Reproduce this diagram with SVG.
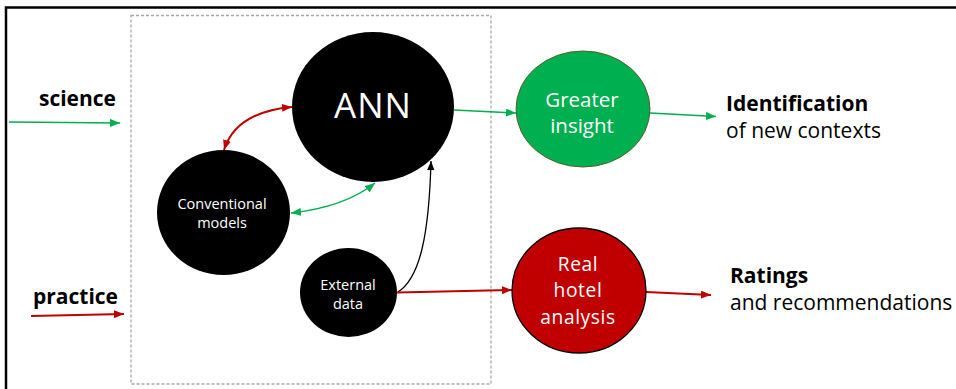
<svg xmlns="http://www.w3.org/2000/svg" width="956" height="389" viewBox="0 0 956 389">
  <defs>
    <marker id="ah-green" viewBox="0 0 10 8" refX="10" refY="4" markerWidth="10" markerHeight="8" markerUnits="userSpaceOnUse" orient="auto-start-reverse">
      <path d="M0,0 L10,4 L0,8 Z" fill="#00b050"/>
    </marker>
    <marker id="ah-red" viewBox="0 0 10 8" refX="10" refY="4" markerWidth="10" markerHeight="8" markerUnits="userSpaceOnUse" orient="auto-start-reverse">
      <path d="M0,0 L10,4 L0,8 Z" fill="#c00000"/>
    </marker>
    <marker id="ah-black" viewBox="0 0 10 8" refX="10" refY="4" markerWidth="9" markerHeight="8" markerUnits="userSpaceOnUse" orient="auto-start-reverse">
      <path d="M0,0 L10,4 L0,8 Z" fill="#000"/>
    </marker>
  </defs>
  <style>
    text { font-family: "Open Sans", "Liberation Sans", sans-serif; }
    .lbl-b { font-weight: bold; font-size: 21px; fill: #000; }
    .lbl { font-size: 21px; fill: #000; }
    .in-w { fill: #fff; text-anchor: middle; }
    .g { stroke: #00b050; stroke-width: 1.5; fill: none; }
    .r { stroke: #c00000; stroke-width: 2; fill: none; }
    .k { stroke: #000; stroke-width: 1.3; fill: none; }
  </style>

  <rect width="956" height="389" fill="#fff"/>

  <!-- outer frame (top and left edges visible) -->
  <path d="M6,389 V7.5 H956" fill="none" stroke="#000" stroke-width="2.5"/>

  <!-- dashed enclosure around the model -->
  <rect x="131" y="15.5" width="360" height="368.5" fill="none" stroke="#a6a6a6" stroke-width="1.3" stroke-dasharray="3 2"/>

  <!-- side labels -->
  <text class="lbl-b" x="116" y="106" text-anchor="end">science</text>
  <text class="lbl-b" x="118" y="304" text-anchor="end">practice</text>

  <g id="connectors">
    <line class="g" x1="9" y1="122" x2="120" y2="123" marker-end="url(#ah-green)"/>
    <line class="r" x1="31" y1="316" x2="124" y2="314" marker-end="url(#ah-red)"/>
    <path class="r" d="M224,150 Q236,112 292,107" stroke-width="1.5" marker-start="url(#ah-red)" marker-end="url(#ah-red)"/>
    <path class="g" d="M291,213 Q345,207 375,183" marker-start="url(#ah-green)" marker-end="url(#ah-green)"/>
    <path class="k" d="M398,292 C420,278 429,235 431,161" marker-end="url(#ah-black)"/>
    <line class="g" x1="454" y1="110" x2="516" y2="113" marker-end="url(#ah-green)"/>
    <line class="g" x1="650" y1="113" x2="716" y2="116.5" marker-end="url(#ah-green)"/>
    <line class="r" x1="397" y1="292.5" x2="512" y2="290" marker-end="url(#ah-red)"/>
    <line class="r" x1="646" y1="292" x2="711" y2="295" marker-end="url(#ah-red)"/>
  </g>

  <g id="ann">
    <ellipse cx="373" cy="107" rx="81" ry="75" fill="#000"/>
    <text class="in-w" x="373" y="118" font-size="35" letter-spacing="1">ANN</text>
  </g>

  <g id="conventional-models">
    <ellipse cx="223.5" cy="212.5" rx="66.5" ry="62.5" fill="#000"/>
    <text class="in-w" x="222" y="209" font-size="14.5">Conventional</text>
    <text class="in-w" x="222" y="228" font-size="14.5">models</text>
  </g>

  <g id="external-data">
    <ellipse cx="348.5" cy="292.5" rx="48.5" ry="44.5" fill="#000"/>
    <text class="in-w" x="348" y="290" font-size="14.5">External</text>
    <text class="in-w" x="348" y="309" font-size="14.5">data</text>
  </g>

  <g id="greater-insight">
    <ellipse cx="583" cy="109" rx="67" ry="58" fill="#00b050" stroke="#4f6228" stroke-width="1"/>
    <text class="in-w" x="582" y="107" font-size="20.5">Greater</text>
    <text class="in-w" x="582" y="133" font-size="20.5">insight</text>
  </g>

  <g id="real-hotel-analysis">
    <ellipse cx="579" cy="290.5" rx="67" ry="62.5" fill="#c00000" stroke="#000" stroke-width="1.3"/>
    <text class="in-w" x="578" y="270.5" font-size="19.2" letter-spacing="0.6">Real</text>
    <text class="in-w" x="578" y="297" font-size="19.2" letter-spacing="0.6">hotel</text>
    <text class="in-w" x="578" y="323.5" font-size="19.2" letter-spacing="0.6">analysis</text>
  </g>

  <g id="identification">
    <text class="lbl-b" x="726" y="111">Identification</text>
    <text class="lbl" x="726" y="138">of new contexts</text>
  </g>

  <g id="ratings">
    <text class="lbl-b" x="730" y="283">Ratings</text>
    <text class="lbl" x="730" y="310">and recommendations</text>
  </g>
</svg>
